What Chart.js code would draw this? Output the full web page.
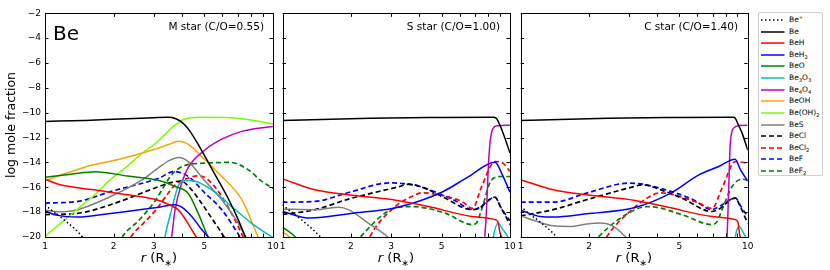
<!DOCTYPE html>
<html>
<head>
<meta charset="utf-8">
<script src="https://cdn.jsdelivr.net/npm/chart.js@4.4.1/dist/chart.umd.min.js"></script>
<style>
body { margin: 0; background: #fff; font-family: "DejaVu Sans", sans-serif; }
#wrap { position: relative; width: 830px; height: 270px; overflow: hidden; }
#wrap canvas { position: absolute; left: 0; top: 0; }
.txt { position: absolute; white-space: nowrap; color: #000; }
.xt { position: absolute; top: 250px; width: 80px; text-align: center; font-size: 13px; line-height: 15px; }
.xt sub { font-size: 70%; line-height: 0; }
#ytitle { position: absolute; left: -64px; top: 118px; width: 150px; height: 14px; text-align: center;
          font-size: 12.5px; line-height: 14px; transform: rotate(-90deg); }
#legend { position: absolute; left: 758px; top: 12px; width: 65px; height: 164px;
          border: 1px solid #d0d0d0; border-radius: 2px; background: #fff; box-sizing: border-box; }
.row { position: absolute; left: 0; height: 10px; font-size: 7.5px; line-height: 10px; }
.row svg { position: absolute; left: 1px; top: 0; }
.row span { position: absolute; left: 30px; top: 0; white-space: nowrap; }
.row sub { font-size: 70%; vertical-align: -2px; line-height: 0; }
.row sup { font-size: 70%; vertical-align: 3px; line-height: 0; }
</style>
</head>
<body>
<div id="wrap">
  <canvas id="cM" width="830" height="270"></canvas>
  <canvas id="cS" width="830" height="270"></canvas>
  <canvas id="cC" width="830" height="270"></canvas>
  <div class="txt" style="left:53px;top:22.5px;font-size:20px;line-height:20px;">Be</div>
  <div class="txt" style="right:566px;top:21px;font-size:10.5px;line-height:10.5px;">M star (C/O=0.55)</div>
  <div class="txt" style="right:330px;top:21px;font-size:10.5px;line-height:10.5px;">S star (C/O=1.00)</div>
  <div class="txt" style="right:92px;top:21px;font-size:10.5px;line-height:10.5px;">C star (C/O=1.40)</div>
  <div id="ytitle">log mole fraction</div>
  <div class="xt" style="left:119px;"><i>r</i> (R<sub>∗</sub>)</div>
  <div class="xt" style="left:356px;"><i>r</i> (R<sub>∗</sub>)</div>
  <div class="xt" style="left:594px;"><i>r</i> (R<sub>∗</sub>)</div>
  <div id="legend"></div>
</div>
<script>
// axes
const rTicks = [1, 2, 3, 4, 5, 6, 7, 8, 9, 10];
const rLabeled = [1, 2, 3, 5, 10];
const yTicks = [-2, -4, -6, -8, -10, -12, -14, -16, -18, -20];

// species, legend labels and styles
const names = ["Be+", "Be", "BeH", "BeH2", "BeO", "Be3O3", "Be4O4", "BeOH", "Be(OH)2", "BeS", "BeCl", "BeCl2", "BeF", "BeF2"];
const legendLabels = ["Be<sup>+</sup>", "Be", "BeH", "BeH<sub>2</sub>", "BeO", "Be<sub>3</sub>O<sub>3</sub>",
    "Be<sub>4</sub>O<sub>4</sub>", "BeOH", "Be(OH)<sub>2</sub>", "BeS", "BeCl", "BeCl<sub>2</sub>", "BeF", "BeF<sub>2</sub>"];
const colors = ["#000000", "#000000", "#ff0000", "#0000ff", "#008000", "#00bfbf", "#bf00bf",
    "#ffa500", "#7cfc00", "#808080", "#000000", "#ff0000", "#0000ff", "#008000"];
const dashes = [[1.5, 2.5], [], [], [], [], [], [], [], [], [], [5, 3], [5, 3], [5, 3], [5, 3]];

// M star (C/O=0.55) : [r, log mole fraction]
const mBeP   = [[1,-17.4],[1.06,-17.8],[1.21,-18.6],[1.46,-20],[1.55,-20.7]];
const mBe    = [[1,-10.7],[1.5,-10.62],[2,-10.52],[3,-10.4],[3.45,-10.37],[3.75,-10.48],[3.98,-10.75],[4.25,-11.3],[4.75,-12.7],[5.5,-14.8],[6.4,-17.0],[7.0,-18.5],[7.5,-19.85],[8.0,-21]];
const mBeH   = [[1,-15.35],[1.17,-15.8],[1.64,-16.2],[2.3,-16.6],[3.16,-17.06],[3.59,-17.5],[3.84,-17.8],[4.05,-18.35],[4.4,-19.4],[4.6,-20],[4.8,-20.6]];
const mBeH2  = [[1,-17.9],[1.1,-18.2],[1.39,-18.4],[1.94,-18.1],[3.16,-17.6],[3.72,-17.4],[3.98,-17.6],[4.4,-18.35],[4.87,-19.4],[5.2,-20],[5.5,-20.6]];
const mBeO   = [[1,-15.2],[1.3,-14.95],[1.66,-14.75],[2.3,-15.1],[3.16,-15.46],[3.72,-15.94],[4.25,-16.5],[4.7,-18.1],[5.2,-20.06],[5.5,-21]];
const mBe3O3 = [[3.3,-21],[3.36,-20],[3.59,-17.8],[3.84,-15.9],[4.1,-15.45],[4.5,-15.5],[5.38,-16.2],[6.58,-17.55],[8.07,-18.9],[10,-20.06]];
const mBe4O4 = [[3.5,-21],[3.59,-20],[3.72,-17.8],[3.98,-15.66],[4.25,-14.4],[5.03,-13.0],[5.96,-12.13],[7.3,-11.5],[10,-11.1]];
const mBeOH  = [[1,-15.5],[1.1,-15.2],[1.3,-14.75],[1.58,-14.25],[2,-13.85],[2.6,-13.3],[3.2,-12.8],[3.6,-12.45],[3.85,-12.3],[4.3,-12.6],[5.0,-13.75],[5.96,-15.13],[7.3,-17.0],[8.6,-20],[9,-20.8]];
const mBeOH2 = [[1,-19.95],[1.17,-18.9],[1.36,-17.9],[1.7,-16.4],[1.9,-15.5],[2.3,-14.3],[2.65,-13.3],[3.04,-12.5],[3.42,-11.6],[3.72,-11.0],[4.05,-10.55],[4.4,-10.4],[5,-10.37],[7,-10.44],[10,-10.9]];
const mBeS   = [[1,-17.85],[1.2,-17.97],[1.39,-17.8],[1.94,-16.74],[2.72,-15.3],[3.16,-14.4],[3.5,-13.85],[3.86,-13.6],[4.25,-13.93],[5.03,-15.5],[5.96,-17.0],[7.05,-18.9],[7.65,-20.06],[8,-20.7]];
const mBeCl  = [[1,-18.2],[1.39,-18.1],[1.94,-17.4],[3.16,-15.94],[3.6,-15.6],[3.95,-15.5],[4.3,-16.0],[4.7,-16.9],[5.3,-18.3],[6.1,-20],[6.4,-20.7]];
const mBeCl2 = [[2.3,-20.6],[2.38,-20],[2.7,-18.9],[3.04,-17.9],[3.4,-16.7],[3.72,-15.8],[4.25,-15.26],[4.7,-15.08],[5.2,-15.4],[5.96,-16.74],[6.8,-18.6],[7.4,-20],[7.7,-20.7]];
const mBeF   = [[1,-17.27],[1.39,-17.14],[1.94,-16.34],[3.16,-15.26],[3.68,-14.73],[4.25,-15.13],[5.03,-16.47],[5.96,-17.8],[7.15,-19.96],[7.5,-20.6]];
const mBeF2  = [[2.1,-20.6],[2.18,-20],[2.6,-18.6],[3.04,-17.1],[3.59,-15.0],[4.1,-14.25],[5,-14.06],[6.5,-14.0],[7.8,-14.6],[8.9,-15.5],[10,-16.07]];

// S star (C/O=1.00)
const sBeP   = [[1,-17.4],[1.06,-17.8],[1.21,-18.6],[1.47,-20],[1.6,-20.8]];
const sBe    = [[1,-10.63],[2.42,-10.44],[5,-10.38],[8.44,-10.36],[8.6,-10.38],[8.75,-10.5],[9.03,-11.0],[9.33,-11.65],[10,-13.25]];
const sBeH   = [[1,-15.32],[1.39,-16.2],[1.95,-16.6],[3.19,-17.06],[4.38,-17.55],[6.79,-18.35],[8.6,-18.6],[8.85,-18.8],[9.05,-19.7],[9.2,-20],[9.4,-20.8]];
const sBeH2  = [[1,-17.95],[1.32,-18.48],[2.05,-18.08],[3.07,-17.68],[4.0,-17.1],[5.09,-16.34],[6.5,-15.2],[8.6,-13.98],[9.2,-14.9],[10,-16.4]];
const sBeO   = [[1,-19.2],[1.14,-20],[1.2,-20.6]];
const sBe3O3 = [[8.3,-21],[8.44,-20],[8.87,-18.9],[9.3,-19.4],[9.8,-20],[10,-20.3]];
const sBe4O4 = [[7.6,-21.5],[7.75,-20],[7.9,-17.5],[8.0,-15],[8.15,-12.6],[8.4,-11.3],[8.8,-11.05],[10,-11.0]];
const sBeOH  = [[1,-19.6],[1.07,-20],[1.12,-20.6]];
const sBeOH2 = [];
const sBeS   = [[1,-17.76],[1.39,-17.8],[1.77,-17.6],[1.95,-17.8],[2.39,-18.9],[2.9,-20],[3.1,-20.6]];
const sBeCl  = [[1,-18.2],[1.39,-17.8],[1.95,-16.95],[3.19,-15.99],[3.6,-15.75],[4.38,-16.2],[5.18,-16.87],[6.79,-17.8],[7.2,-17.75],[8.6,-16.8],[9.1,-17.6],[10,-19.0]];
const sBeCl2 = [[2.35,-20.6],[2.42,-20],[3.07,-17.68],[3.7,-16.74],[4.1,-16.45],[4.5,-16.5],[6.13,-17.14],[6.85,-17.7],[7.5,-15.94],[8.6,-13.93],[9.2,-14.0],[10,-14.7]];
const sBeF   = [[1,-17.2],[1.39,-17.14],[1.95,-16.42],[2.97,-15.65],[3.4,-15.7],[4.02,-15.94],[5.63,-17.0],[6.9,-17.8],[7.3,-17.65],[8.6,-16.8],[9.1,-17.6],[10,-18.7]];
const sBeF2  = [[2.1,-20.5],[2.2,-20],[3.12,-17.68],[3.7,-17.55],[5.18,-18.08],[6.79,-19.0],[7.1,-18.9],[7.5,-17.8],[8.3,-15.4],[9.2,-15.13],[10,-15.13]];

// C star (C/O=1.40)
const cBeP   = [[1,-17.5],[1.06,-17.95],[1.2,-18.7],[1.44,-20],[1.55,-20.8]];
const cBe    = [[1,-10.63],[2.42,-10.44],[5,-10.38],[8.64,-10.36],[8.82,-10.45],[9.1,-11.0],[9.43,-11.6],[10,-13.0]];
const cBeH   = [[1,-15.4],[1.39,-16.2],[1.95,-16.6],[3.19,-17.06],[4.33,-17.55],[6.96,-18.35],[8.82,-18.6],[9.05,-18.8],[9.2,-19.7],[9.28,-20],[9.4,-20.8]];
const cBeH2  = [[1,-17.85],[1.22,-18.35],[1.39,-18.4],[1.95,-18.13],[3.19,-17.63],[4.6,-16.45],[6.09,-15.0],[7.46,-14.33],[8.8,-13.74],[9.3,-14.6],[10,-15.5]];
const cBeO   = [];
const cBe3O3 = [[8.7,-21],[8.82,-20],[9.15,-19.15],[9.6,-19.7],[10,-20.3]];
const cBe4O4 = [[7.95,-21.5],[8.11,-20],[8.25,-16],[8.38,-12.45],[8.67,-11.24],[9.2,-11.02],[10,-11.0]];
const cBeOH  = [];
const cBeOH2 = [];
const cBeS   = [[1,-18.3],[1.18,-18.75],[1.39,-19.1],[1.65,-19.15],[1.95,-18.96],[2.23,-18.88],[2.56,-19.15],[2.9,-20],[3.1,-20.6]];
const cBeCl  = [[1,-18.3],[1.39,-17.8],[1.95,-17.0],[3.09,-15.99],[3.42,-15.8],[4.33,-16.34],[5.13,-16.87],[6.96,-17.95],[7.4,-17.8],[8.82,-16.87],[9.3,-17.6],[10,-18.9]];
const cBeCl2 = [[2.3,-20.6],[2.39,-20],[3.09,-17.8],[3.66,-16.8],[4.1,-16.45],[4.6,-16.55],[6.09,-17.27],[6.96,-17.7],[7.71,-16.07],[8.82,-13.93],[10,-14.06]];
const cBeF   = [[1,-17.2],[1.39,-17.2],[1.95,-16.47],[2.98,-15.67],[3.3,-15.7],[4.1,-16.07],[5.76,-17.0],[6.94,-17.8],[7.4,-17.6],[8.85,-16.87],[9.3,-17.5],[10,-18.35]];
const cBeF2  = [[2.1,-20.5],[2.2,-20],[3.19,-17.8],[3.66,-17.55],[5.13,-18.2],[6.96,-19.0],[7.3,-18.8],[7.71,-17.8],[8.54,-15.94],[9.43,-15.35],[10,-15.4]];

const mStar = [mBeP, mBe, mBeH, mBeH2, mBeO, mBe3O3, mBe4O4, mBeOH, mBeOH2, mBeS, mBeCl, mBeCl2, mBeF, mBeF2];
const sStar = [sBeP, sBe, sBeH, sBeH2, sBeO, sBe3O3, sBe4O4, sBeOH, sBeOH2, sBeS, sBeCl, sBeCl2, sBeF, sBeF2];
const cStar = [cBeP, cBe, cBeH, cBeH2, cBeO, cBe3O3, cBe4O4, cBeOH, cBeOH2, cBeS, cBeCl, cBeCl2, cBeF, cBeF2];

// frame + inward ticks (matplotlib style)
const framePlugin = {
    id: 'frame',
    afterDatasetsDraw(chart) {
	const ctx = chart.ctx;
	const a = chart.chartArea;
	const xs = chart.scales.x, ys = chart.scales.y;
	ctx.save();
	ctx.strokeStyle = '#000';
	ctx.lineWidth = 1;
	ctx.beginPath();
	rTicks.forEach(function (v) {
	    const px = Math.round(xs.getPixelForValue(v)) + 0.5;
	    ctx.moveTo(px, a.bottom); ctx.lineTo(px, a.bottom - 3.5);
	    ctx.moveTo(px, a.top); ctx.lineTo(px, a.top + 3.5);
	});
	yTicks.forEach(function (v) {
	    const py = Math.round(ys.getPixelForValue(v)) + 0.5;
	    ctx.moveTo(a.left, py); ctx.lineTo(a.left + 3.5, py);
	    ctx.moveTo(a.right, py); ctx.lineTo(a.right - 3.5, py);
	});
	ctx.stroke();
	ctx.strokeRect(Math.round(a.left) + 0.5, Math.round(a.top) + 0.5,
		       Math.round(a.right) - Math.round(a.left), Math.round(a.bottom) - Math.round(a.top));
	ctx.restore();
    }
};

function makeChart(id, rows, padLeft, padRight, showY) {
    const datasets = [];
    rows.forEach(function (pts, i) {
	datasets.push({
	    label: names[i],
	    data: pts.map(function (p) { return { x: p[0], y: p[1] }; }),
	    borderColor: colors[i],
	    backgroundColor: colors[i],
	    borderWidth: (i >= 10) ? 1.7 : 1.5,
	    borderDash: dashes[i],
	    pointRadius: 0,
	    fill: false,
	    cubicInterpolationMode: 'monotone'
	});
    });
    const ctx = document.getElementById(id).getContext('2d');
    return new Chart(ctx, {
	type: 'line',
	data: { datasets: datasets },
	options: {
	    responsive: false,
	    animation: false,
	    events: [],
	    layout: { padding: { left: padLeft, right: padRight, top: 13.3, bottom: 0 } },
	    plugins: { legend: { display: false }, tooltip: { enabled: false } },
	    scales: {
		x: {
		    type: 'logarithmic',
		    min: 1, max: 10,
		    grid: { display: false, drawTicks: false },
		    border: { display: false },
		    afterBuildTicks: function (s) { s.ticks = rTicks.map(function (v) { return { value: v }; }); },
		    afterFit: function (s) { s.height = 33; },
		    ticks: {
			autoSkip: false, maxRotation: 0, padding: 4,
			color: '#000',
			font: { family: 'DejaVu Sans', size: 9 },
			callback: function (v) { return rLabeled.indexOf(v) >= 0 ? String(v) : ''; }
		    }
		},
		y: {
		    display: showY,
		    min: -20, max: -2,
		    grid: { display: false, drawTicks: false },
		    border: { display: false },
		    afterBuildTicks: function (s) { s.ticks = yTicks.map(function (v) { return { value: v }; }); },
		    afterFit: function (s) { s.width = showY ? 45 : 0; },
		    ticks: {
			padding: 4,
			color: '#000',
			font: { family: 'DejaVu Sans', size: 9 },
			callback: function (v) { return String(v).replace('-', '\u2212'); }
		    }
		}
	    }
	},
	plugins: [framePlugin]
    });
}

makeChart('cM', mStar, 0, 557, true);
makeChart('cS', sStar, 282.5, 320, false);
makeChart('cC', cStar, 520.7, 82.3, false);

// legend
const legend = document.getElementById('legend');
names.forEach(function (n, i) {
    const row = document.createElement('div');
    row.className = 'row';
    row.style.top = (19 - 12 - 5 + i * 11.62) + 'px';
    const da = dashes[i].length ? ' stroke-dasharray="' + dashes[i].join(' ') + '"' : '';
    row.innerHTML = '<svg width="26" height="10"><line x1="1" y1="5" x2="24.5" y2="5" stroke="' + colors[i] +
	'" stroke-width="1.5"' + da + '/></svg><span>' + legendLabels[i] + '</span>';
    legend.appendChild(row);
});
</script>
</body>
</html>
